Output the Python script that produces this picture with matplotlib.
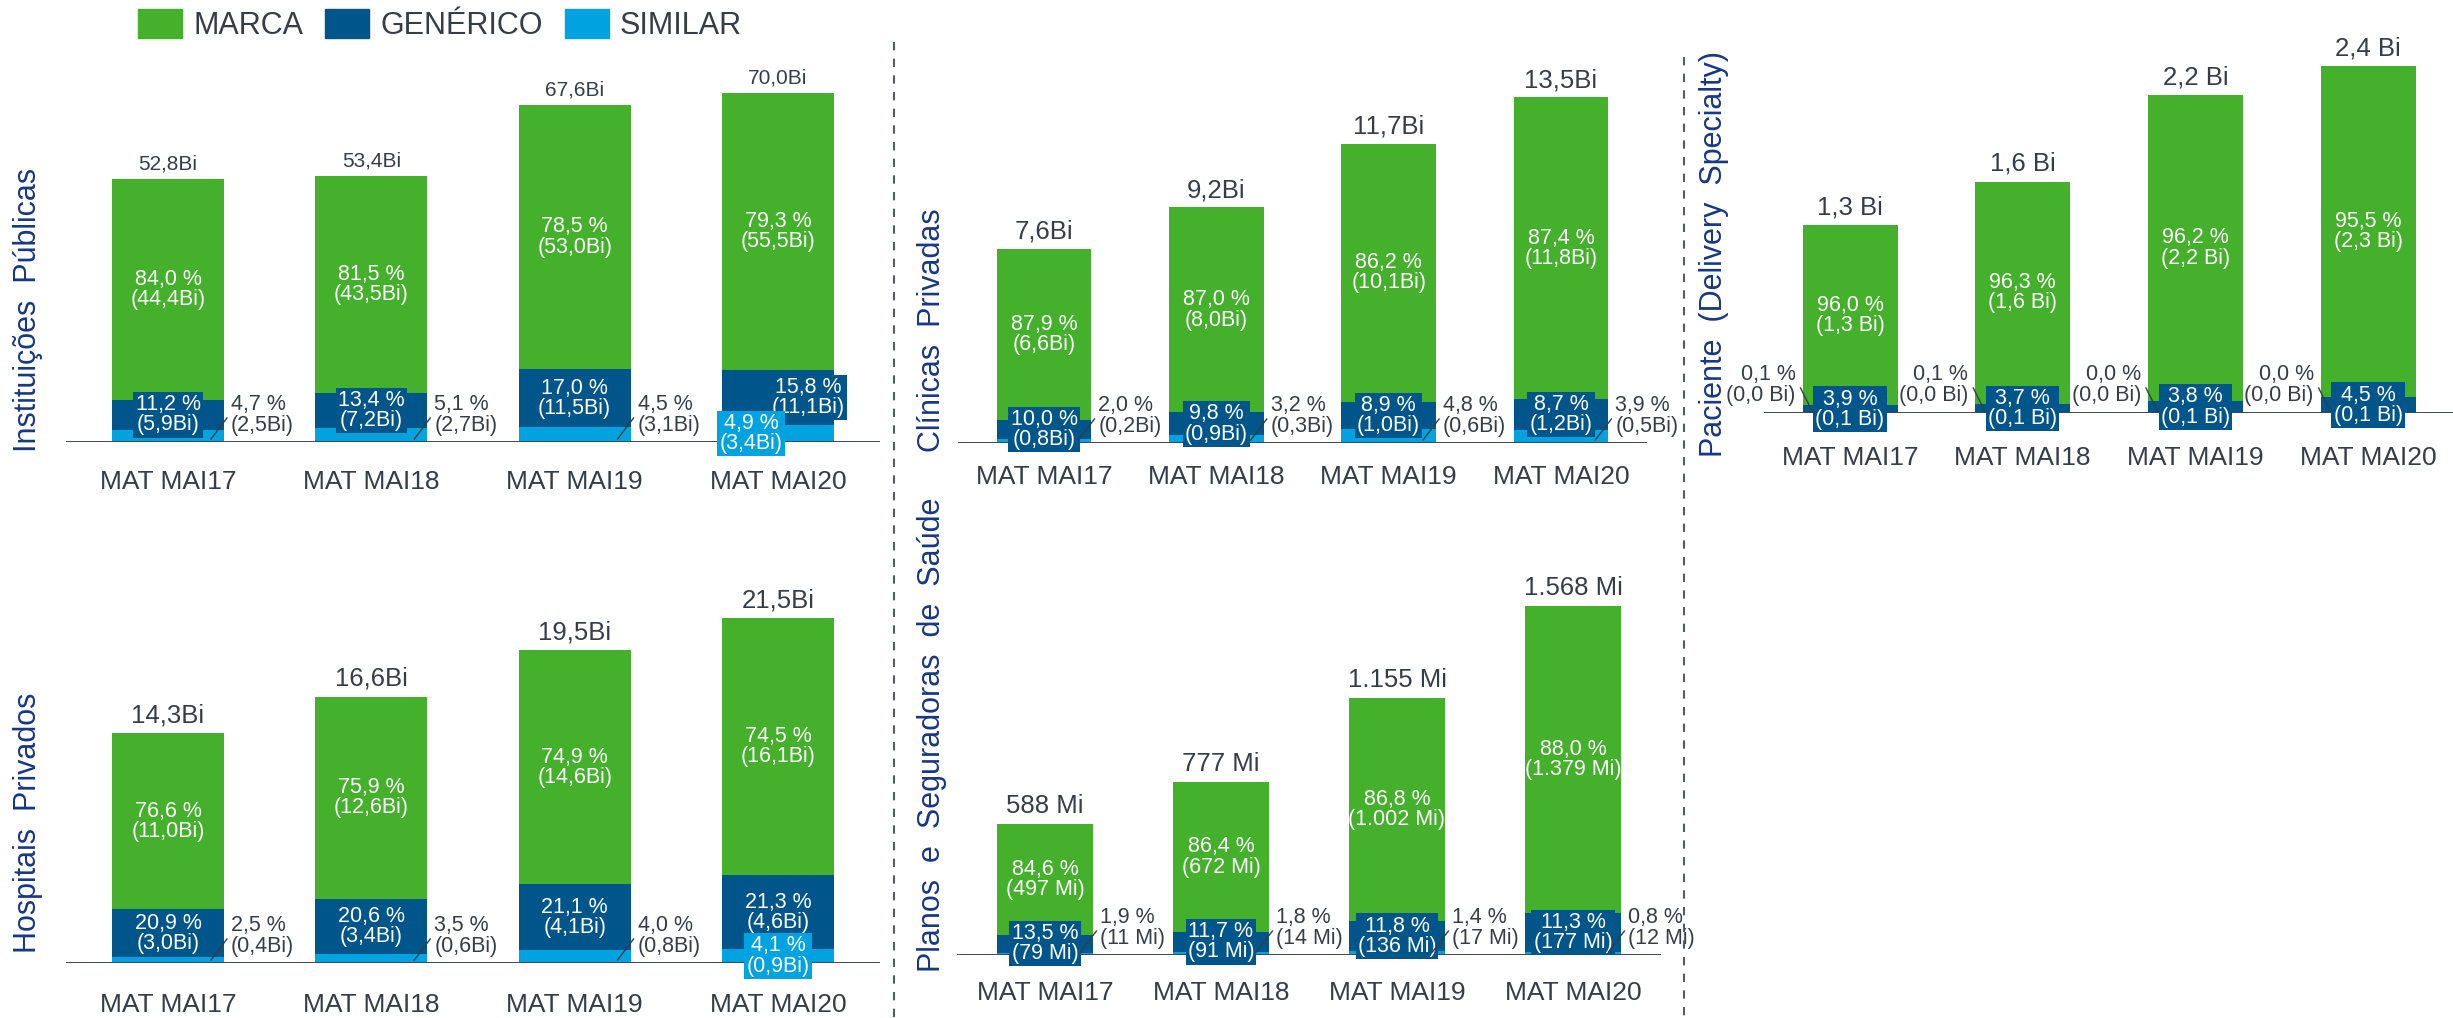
import matplotlib
matplotlib.use('Agg')
import matplotlib.pyplot as plt
from matplotlib.patches import Patch
from matplotlib.lines import Line2D

plt.rcParams['font.family'] = ['Liberation Sans', 'DejaVu Sans']

W, H = 2453, 1018

categorias = ['MAT MAI17', 'MAT MAI18', 'MAT MAI19', 'MAT MAI20']

# Instituições Públicas (Bi)
pub_total = [52.8, 53.4, 67.6, 70.0]
pub_marca_pct = [84.0, 81.5, 78.5, 79.3]
pub_marca_val = [44.4, 43.5, 53.0, 55.5]
pub_gen_pct = [11.2, 13.4, 17.0, 15.8]
pub_gen_val = [5.9, 7.2, 11.5, 11.1]
pub_sim_pct = [4.7, 5.1, 4.5, 4.9]
pub_sim_val = [2.5, 2.7, 3.1, 3.4]

# Hospitais Privados (Bi)
hosp_total = [14.3, 16.6, 19.5, 21.5]
hosp_marca_pct = [76.6, 75.9, 74.9, 74.5]
hosp_marca_val = [11.0, 12.6, 14.6, 16.1]
hosp_gen_pct = [20.9, 20.6, 21.1, 21.3]
hosp_gen_val = [3.0, 3.4, 4.1, 4.6]
hosp_sim_pct = [2.5, 3.5, 4.0, 4.1]
hosp_sim_val = [0.4, 0.6, 0.8, 0.9]

# Clínicas Privadas (Bi)
clin_total = [7.6, 9.2, 11.7, 13.5]
clin_marca_pct = [87.9, 87.0, 86.2, 87.4]
clin_marca_val = [6.6, 8.0, 10.1, 11.8]
clin_gen_pct = [10.0, 9.8, 8.9, 8.7]
clin_gen_val = [0.8, 0.9, 1.0, 1.2]
clin_sim_pct = [2.0, 3.2, 4.8, 3.9]
clin_sim_val = [0.2, 0.3, 0.6, 0.5]

# Planos e Seguradoras de Saúde (Mi)
plan_total = [588, 777, 1155, 1568]
plan_marca_pct = [84.6, 86.4, 86.8, 88.0]
plan_marca_val = [497, 672, 1002, 1379]
plan_gen_pct = [13.5, 11.7, 11.8, 11.3]
plan_gen_val = [79, 91, 136, 177]
plan_sim_pct = [1.9, 1.8, 1.4, 0.8]
plan_sim_val = [11, 14, 17, 12]

# Paciente (Delivery Specialty) (Bi)
pac_total = [1.3, 1.6, 2.2, 2.4]
pac_marca_pct = [96.0, 96.3, 96.2, 95.5]
pac_marca_val = [1.3, 1.6, 2.2, 2.3]
pac_gen_pct = [3.9, 3.7, 3.8, 4.5]
pac_gen_val = [0.1, 0.1, 0.1, 0.1]
pac_sim_pct = [0.1, 0.1, 0.0, 0.0]
pac_sim_val = [0.0, 0.0, 0.0, 0.0]

VERDE = '#44B02C'
AZUL = '#00558A'
CIANO = '#00A3E0'
TEXTO = '#353E48'
TITULO = '#173882'


def fmt_bi(v):
    return f'{v:.1f}'.replace('.', ',') + 'Bi'


def fmt_bi2(v):
    return f'{v:.1f}'.replace('.', ',') + ' Bi'


def fmt_mi(v):
    return f'{v:,.0f}'.replace(',', '.') + ' Mi'


def fmt_pct(v):
    return f'{v:.1f}'.replace('.', ',') + ' %'


fig = plt.figure(figsize=(W / 100, H / 100), dpi=100)


def painel(left, base, spacing, top, ppu, total, mp, mv, gp, gv, sp, sv, fmt,
           titulo, tx, ty, total_fs, total_off, tick_off, sim_modo,
           gen_dx=(0, 0, 0, 0), sim_dx=(0, 0, 0, 0)):
    width = 4 * spacing
    ax = fig.add_axes([left / W, (H - base) / H, width / W, (base - top) / H])
    ax.set_xlim(-0.5, 3.5)
    ax.set_ylim(0, (base - top) / ppu)
    ax.axis('off')
    bw = 0.55
    xs = list(range(4))
    h_sim = [t * p / 100 for t, p in zip(total, sp)]
    h_gen = [t * p / 100 for t, p in zip(total, gp)]
    h_mar = [t * p / 100 for t, p in zip(total, mp)]
    b2 = [a + b for a, b in zip(h_sim, h_gen)]
    ax.bar(xs, h_sim, bw, color=CIANO, zorder=1)
    ax.bar(xs, h_gen, bw, bottom=h_sim, color=AZUL, zorder=1)
    ax.bar(xs, h_mar, bw, bottom=b2, color=VERDE, zorder=1)
    ax.axhline(0, color='#3F4852', lw=1.4, zorder=2)

    for i in xs:
        ax.annotate(categorias[i], (i, 0), xytext=(0, -tick_off), textcoords='offset pixels',
                    ha='center', va='center', fontsize=19, color=TEXTO)
        ax.annotate(fmt(total[i]), (i, b2[i] + h_mar[i]), xytext=(0, total_off),
                    textcoords='offset pixels', ha='center', va='baseline',
                    fontsize=total_fs, color=TEXTO)
        ax.text(i, b2[i] + h_mar[i] / 2, f'{fmt_pct(mp[i])}\n({fmt(mv[i])})',
                ha='center', va='center', color='white', fontsize=15.5, linespacing=0.95)
        ax.annotate(f'{fmt_pct(gp[i])}\n({fmt(gv[i])})', (i, h_sim[i] + h_gen[i] / 2),
                    xytext=(gen_dx[i], 0), textcoords='offset pixels',
                    ha='center', va='center', color='white', fontsize=15.5, linespacing=0.95,
                    bbox=dict(boxstyle='square,pad=0.1', fc=AZUL, ec='none'), zorder=4)
        txt = f'{fmt_pct(sp[i])}\n({fmt(sv[i])})'
        if sim_modo[i] == 'box':
            ax.annotate(txt, (i, h_sim[i] / 2), xytext=(sim_dx[i], 0), textcoords='offset pixels',
                        ha='center', va='center', color='white', fontsize=15.5, linespacing=0.95,
                        bbox=dict(boxstyle='square,pad=0.1', fc=CIANO, ec='none'), zorder=5)
        elif sim_modo[i] == 'right':
            xr = i + bw / 2
            ax.annotate(txt, (xr, 0), xytext=(7, 27), textcoords='offset pixels',
                        ha='left', va='center', color=TEXTO, fontsize=15.5, linespacing=0.95)
            ax.plot([xr - 13 / spacing, xr + 3 / spacing], [3 / ppu, 24 / ppu],
                    color=TEXTO, lw=1, zorder=6, clip_on=False)
        else:
            xl = i - bw / 2
            ax.annotate(txt, (xl, 0), xytext=(-7, 28), textcoords='offset pixels',
                        ha='right', va='center', color=TEXTO, fontsize=15.5, linespacing=0.95)
            ax.plot([xl - 2 / spacing, xl + 10 / spacing], [25 / ppu, 1 / ppu],
                    color=TEXTO, lw=1, zorder=6, clip_on=False)

    fig.text(tx / W, 1 - ty / H, titulo, rotation=90, ha='center', va='center',
             fontsize=22, color=TITULO)
    return ax


painel(66.4, 442, 203.3, 60, 4.99, pub_total, pub_marca_pct, pub_marca_val,
       pub_gen_pct, pub_gen_val, pub_sim_pct, pub_sim_val, fmt_bi,
       'Instituições  Públicas', 28, 310, 15, 9, 40, ['right', 'right', 'right', 'box'],
       gen_dx=(0, 0, 0, 30), sim_dx=(0, 0, 0, -27))

painel(66.4, 963, 203.3, 580, 16.05, hosp_total, hosp_marca_pct, hosp_marca_val,
       hosp_gen_pct, hosp_gen_val, hosp_sim_pct, hosp_sim_val, fmt_bi,
       'Hospitais  Privados', 28, 823, 18.5, 11, 42, ['right', 'right', 'right', 'box'])

painel(957.9, 443, 172.3, 60, 25.6, clin_total, clin_marca_pct, clin_marca_val,
       clin_gen_pct, clin_gen_val, clin_sim_pct, clin_sim_val, fmt_bi,
       'Clínicas  Privadas', 932, 330, 18.5, 10, 34, ['right'] * 4)

painel(957, 955, 176, 570, 0.2226, plan_total, plan_marca_pct, plan_marca_val,
       plan_gen_pct, plan_gen_val, plan_sim_pct, plan_sim_val, fmt_mi,
       'Planos  e  Seguradoras  de  Saúde', 932, 735, 18.5, 11, 38, ['right'] * 4)

painel(1763.7, 413, 172.7, 40, 144.5, pac_total, pac_marca_pct, pac_marca_val,
       pac_gen_pct, pac_gen_val, pac_sim_pct, pac_sim_val, fmt_bi2,
       'Paciente  (Delivery  Specialty)', 1714, 254, 18.5, 11, 45, ['left'] * 4)

# separadores tracejados
for xs_, y0 in [(894, 42), (1684, 57)]:
    fig.add_artist(Line2D([xs_ / W, xs_ / W], [1 - y0 / H, 0], transform=fig.transFigure,
                          color='#555B62', lw=1.5, dashes=(4, 4)))

handles = [Patch(color=VERDE, label='MARCA'), Patch(color=AZUL, label='GENÉRICO'),
           Patch(color=CIANO, label='SIMILAR')]
fig.legend(handles=handles, loc='center left', bbox_to_anchor=(138 / W, 1 - 25 / H), ncol=3,
           frameon=False, fontsize=22, handlelength=1.44, handleheight=1.1,
           handletextpad=0.36, columnspacing=0.72, borderpad=0, borderaxespad=0,
           labelcolor=TEXTO)

fig.savefig('out.png', dpi=100)
